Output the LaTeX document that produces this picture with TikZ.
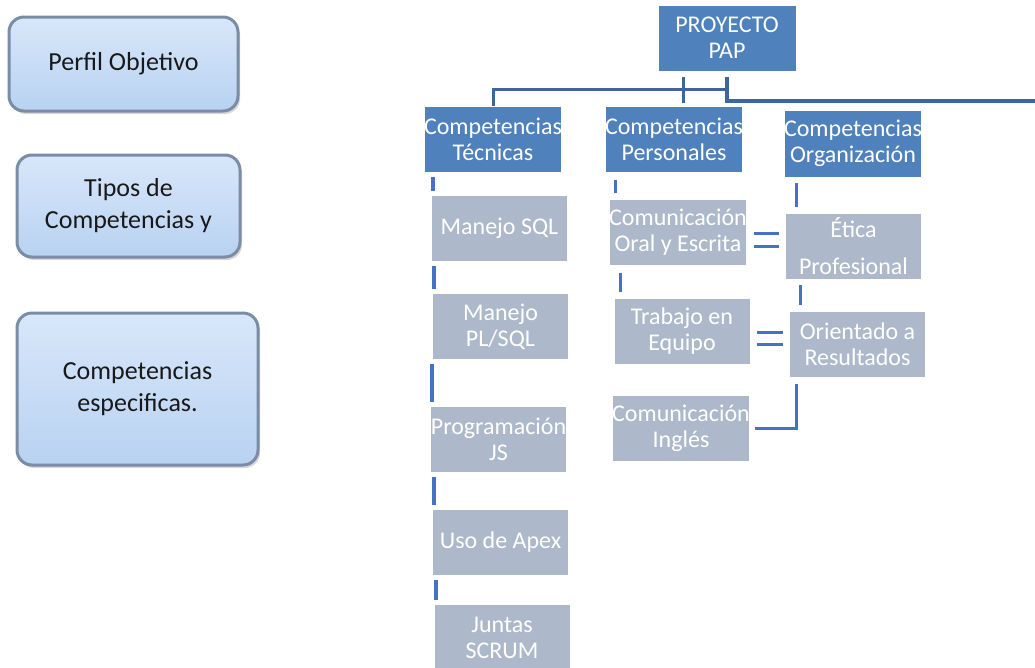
\documentclass[tikz,border=0pt]{standalone}
\usepackage{fontspec}
\setmainfont{Carlito}
\usetikzlibrary{positioning, calc, shadows}

\definecolor{hdrblue}{HTML}{4F81BD}
\definecolor{itemgrey}{HTML}{ADB9CA}
\definecolor{linkblue}{HTML}{4472C4}
\definecolor{darklink}{HTML}{3E659C}
\definecolor{pilltop}{HTML}{D8E7FA}
\definecolor{pillbot}{HTML}{B8D2F1}
\definecolor{pilledge}{HTML}{7B8CA5}

\tikzset{
  pill/.style={rounded corners=15pt, top color=pilltop, bottom color=pillbot,
    draw=pilledge, line width=3pt,
    drop shadow={opacity=0.3, shadow xshift=2pt, shadow yshift=-3pt},
    align=center, text=black!90, font=\fontsize{26}{32}\selectfont, inner sep=0pt},
  header/.style={fill=hdrblue, draw=white, line width=1pt, minimum width=136pt,
    minimum height=66pt, align=center, text=white,
    font=\fontsize{24}{26}\selectfont, inner sep=0pt},
  item/.style={header, fill=itemgrey},
  conn/.style={draw=linkblue, line width=3pt},
  bus/.style={draw=darklink, line width=3pt},
}

\begin{document}
\begin{tikzpicture}[x=1pt, y=-1pt]
\useasboundingbox (0,0) rectangle (1035,667);

% Left column
\node[pill, minimum width=229pt, minimum height=94pt] (perfil) at (123.5,64) {Perfil Objetivo};
\node[pill, minimum width=223pt, minimum height=102pt] (tipos) at (128.5,206) {Tipos de\\Competencias y};
\node[pill, minimum width=241pt, minimum height=152pt] (especificas) at (137.5,389) {Competencias\\especificas.};

% Root and branches
\node[header, minimum width=138pt] (proyecto) at (727,38) {PROYECTO\\PAP};
\node[header] (tecnicas) at (493,139) {Competencias\\Técnicas};
\node[header] (personales) at (674,139) {Competencias\\Personales};
\node[header, minimum height=67pt] (organizacion) at (853,143.5) {Competencias\\Organización};

% Tecnicas
\node[item] (sql) at (499.5,228.5) {Manejo SQL};
\node[item] (plsql) at (500.5,326.5) {Manejo\\PL/SQL};
\node[item] (js) at (498.5,439.5) {Programación\\JS};
\node[item] (apex) at (500.5,542.5) {Uso de Apex};
\node[item] (scrum) at (502,637.5) {Juntas\\SCRUM};

% Personales
\node[item] (oral) at (678,232.5) {Comunicación\\Oral y Escrita};
\node[item] (equipo) at (682,331.5) {Trabajo en\\Equipo};
\node[item] (ingles) at (681,428) {Comunicación\\Inglés};

% Organizacion
\node[item] (etica) at (853.5,246.5) {Ética\\[11pt]Profesional};
\node[item] (resultados) at (857.5,344.5) {Orientado a\\Resultados};

% Top connectors
\coordinate (busend) at ($(proyecto.south)+(0,18)$);
\coordinate (tickA) at ($(proyecto.south)+(-44,5)$);
\coordinate (tickB) at ($(proyecto.south)+(0,5)$);
\coordinate (rimend) at (1035,101);
\draw[bus] (tecnicas.north) |- (busend);
\draw[bus] (tickA) -- ++(0,26);
\draw[bus, line width=4pt] (tickB) |- (rimend);

% Column links
\foreach \a/\b in {tecnicas/sql, sql/plsql, plsql/js, js/apex, apex/scrum}
  \draw[conn, line width=4pt, shorten <=4pt, shorten >=4pt] ([xshift=2pt]\a.south -| \b.west) -- ([xshift=2pt]\b.north west);
\foreach \a/\b in {personales/oral, oral/equipo}
  \draw[conn, shorten <=7pt, shorten >=6pt] ([xshift=7pt]\a.south -| \b.west) -- ([xshift=7pt]\b.north west);
\foreach \a/\b in {organizacion/etica, etica/resultados}
  \draw[conn, shorten <=5pt, shorten >=6pt] ([xshift=11pt]\a.south -| \b.west) -- ([xshift=11pt]\b.north west);
\draw[conn, shorten <=6pt, shorten >=5pt] ([xshift=7pt]resultados.south west) |- (ingles.east);

% Double links
\coordinate (midA) at ($(oral.east)!0.5!(etica.west)$);
\coordinate (midB) at ($(equipo.east)!0.5!(resultados.west)$);
\foreach \dy in {-6.5,6.5}
  \draw[conn, shorten <=7pt, shorten >=6pt] ([yshift=\dy pt]midA -| oral.east) -- ([yshift=\dy pt]midA -| etica.west);
\foreach \dy in {-6,6}
  \draw[conn, shorten <=6pt, shorten >=6pt] ([yshift=\dy pt]midB -| equipo.east) -- ([yshift=\dy pt]midB -| resultados.west);
\end{tikzpicture}
\end{document}
